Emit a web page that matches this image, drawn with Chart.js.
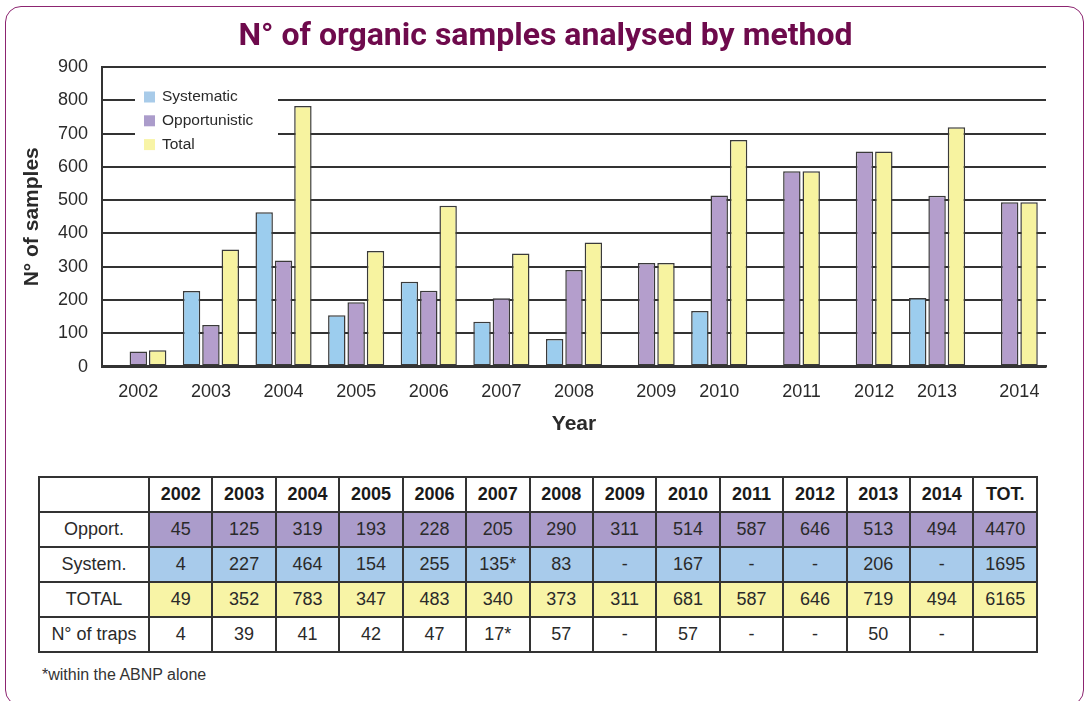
<!DOCTYPE html>
<html>
<head>
<meta charset="utf-8">
<script src="https://cdn.jsdelivr.net/npm/chart.js@4.4.1/dist/chart.umd.min.js"></script>
<style>
  html, body { margin: 0; padding: 0; background: #fff; }
  body { width: 1091px; height: 701px; position: relative; overflow: hidden; font-family: "Liberation Sans", Arial, sans-serif; }
  .frame { position: absolute; left: 5px; top: 6px; width: 1079px; height: 700px; border: 1.5px solid #8c2470; border-radius: 16px; box-sizing: border-box; }
  .title { position: absolute; left: 0; top: 14px; width: 1091px; text-align: center; line-height: 40px; font-family: Roboto, sans-serif; font-weight: bold; font-size: 32px; color: #6e0a4c; }
  .chart-wrap { position: absolute; left: 0; top: 0; width: 1091px; height: 445px; }
  table.data { position: absolute; left: 38px; top: 476px; width: 1000px; border-collapse: collapse; table-layout: fixed; font-size: 18px; color: #2a2a2a; }
  table.data td, table.data th { border: 2px solid #333; height: 33px; padding: 0; text-align: center; }
  table.data th { font-weight: bold; color: #1a1a1a; }
  table.data col.first { width: 110px; }
  tr.opp td.v { background: #ab9ccb; }
  tr.sys td.v { background: #a8cbeb; }
  tr.tot td.v { background: #f8f4a6; }
  .note { position: absolute; left: 42px; top: 666px; font-size: 16px; color: #333; }
</style>
</head>
<body>
<div class="frame"></div>
<div class="chart-wrap"><canvas id="samplesChart" width="1091" height="445"></canvas></div>
<div class="title">N° of organic samples analysed by method</div>
<table class="data" id="dataTable"></table>
<div class="note">*within the ABNP alone</div>

<script>
const years = ["2002", "2003", "2004", "2005", "2006", "2007", "2008", "2009", "2010", "2011", "2012", "2013", "2014"];
const systematic = [4, 227, 464, 154, 255, 135, 83, null, 167, null, null, 206, null];
const opportunistic = [45, 125, 319, 193, 228, 205, 290, 311, 514, 587, 646, 513, 494];
const total = [49, 352, 783, 347, 483, 340, 373, 311, 681, 587, 646, 719, 494];
const yTicks = [0, 100, 200, 300, 400, 500, 600, 700, 800, 900];

// table rows (text as printed, with the footnote marks)
const tableHeader = ["", ...years, "TOT."];
const rowOpport = ["Opport.", "45", "125", "319", "193", "228", "205", "290", "311", "514", "587", "646", "513", "494", "4470"];
const rowSystem = ["System.", "4", "227", "464", "154", "255", "135*", "83", "-", "167", "-", "-", "206", "-", "1695"];
const rowTotal = ["TOTAL", "49", "352", "783", "347", "483", "340", "373", "311", "681", "587", "646", "719", "494", "6165"];
const rowTraps = ["N° of traps", "4", "39", "41", "42", "47", "17*", "57", "-", "57", "-", "-", "50", "-", ""];

const colors = { sys: "#9ccdee", opp: "#b49ecc", tot: "#f7f3a0" };
const legendColors = { sys: "#a8cbe9", opp: "#ab9ccb", tot: "#f8f4a6" };

// build the table
(function () {
  const t = document.getElementById("dataTable");
  let html = '<colgroup><col class="first">' + tableHeader.slice(1).map(() => "<col>").join("") + "</colgroup>";
  html += "<tr>" + tableHeader.map((h) => "<th>" + h + "</th>").join("") + "</tr>";
  function row(cls, cells) {
    return '<tr class="' + cls + '">' + cells.map((c, i) => (i === 0 ? "<td>" + c + "</td>" : (cls === "traps" ? "<td>" : '<td class="v">') + c + "</td>")).join("") + "</tr>";
  }
  html += row("opp", rowOpport) + row("sys", rowSystem) + row("tot", rowTotal) + row("traps", rowTraps);
  t.innerHTML = html;
})();

// legend box drawn inside the plot area, over the grid lines
const insideLegend = {
  id: "insideLegend",
  afterDraw(chart) {
    const { ctx, chartArea } = chart;
    const x0 = chartArea.left + 33;
    const y0 = chartArea.top + 19;
    ctx.save();
    ctx.fillStyle = "#fff";
    ctx.fillRect(x0, y0, 143, 72);
    const items = [["Systematic", legendColors.sys], ["Opportunistic", legendColors.opp], ["Total", legendColors.tot]];
    ctx.font = "15.5px 'Liberation Sans', Arial, sans-serif";
    ctx.textBaseline = "middle";
    items.forEach(function (it, i) {
      const cy = y0 + 11 + i * 23.8;
      ctx.fillStyle = it[1];
      ctx.fillRect(x0 + 9, cy - 5.5, 11, 11);
      ctx.fillStyle = "#2a2a2a";
      ctx.fillText(it[0], x0 + 27, cy);
    });
    ctx.restore();
  },
};

// year labels: centred on the bars actually drawn in each group
const yearLabels = {
  id: "yearLabels",
  afterDraw(chart) {
    const { ctx, chartArea } = chart;
    const mSys = chart.getDatasetMeta(0);
    const mOpp = chart.getDatasetMeta(1);
    const mTot = chart.getDatasetMeta(2);
    ctx.save();
    ctx.font = "18px 'Liberation Sans', Arial, sans-serif";
    ctx.fillStyle = "#2a2a2a";
    ctx.textAlign = "center";
    ctx.textBaseline = "middle";
    years.forEach(function (y, i) {
      const left = systematic[i] === null ? mOpp.data[i].x : mSys.data[i].x;
      const cx = (left + mTot.data[i].x) / 2;
      ctx.fillText(y, cx, chartArea.bottom + 25);
    });
    ctx.restore();
  },
};

function barSet(label, data, color) {
  return {
    label: label,
    data: data,
    backgroundColor: color,
    borderColor: "#3a3a3a",
    borderWidth: 1.5,
    borderSkipped: false,
    barPercentage: 0.9,
    categoryPercentage: 0.8,
  };
}

new Chart(document.getElementById("samplesChart"), {
  type: "bar",
  data: {
    labels: years,
    datasets: [
      barSet("Systematic", systematic, colors.sys),
      barSet("Opportunistic", opportunistic, colors.opp),
      barSet("Total", total, colors.tot),
    ],
  },
  options: {
    responsive: false,
    animation: false,
    layout: { padding: { top: 67, right: 45, left: 18, bottom: 8 } },
    plugins: {
      legend: { display: false },
      tooltip: { enabled: false },
    },
    scales: {
      x: {
        grid: { display: false, drawTicks: false },
        border: { display: true, color: "#333", width: 2.5 },
        ticks: { color: "transparent", font: { size: 16 }, padding: 10 },
        title: {
          display: true,
          text: "Year",
          color: "#2a2a2a",
          font: { family: "'Liberation Sans', Arial, sans-serif", size: 21, weight: "bold" },
          padding: { top: 6, bottom: 0 },
        },
      },
      y: {
        min: 0,
        max: 900,
        afterBuildTicks: (axis) => { axis.ticks = yTicks.map((v) => ({ value: v })); },
        afterFit: (axis) => { axis.width = 84; },
        grid: { color: "#333", lineWidth: 2, drawTicks: false },
        border: { display: true, color: "#333", width: 2 },
        ticks: { color: "#2a2a2a", font: { family: "'Liberation Sans', Arial, sans-serif", size: 18 }, padding: 14 },
        title: {
          display: true,
          text: "N° of samples",
          color: "#2a2a2a",
          font: { family: "'Liberation Sans', Arial, sans-serif", size: 21, weight: "bold" },
          padding: { top: 2, bottom: 8 },
        },
      },
    },
  },
  plugins: [insideLegend, yearLabels],
});
</script>
</body>
</html>
